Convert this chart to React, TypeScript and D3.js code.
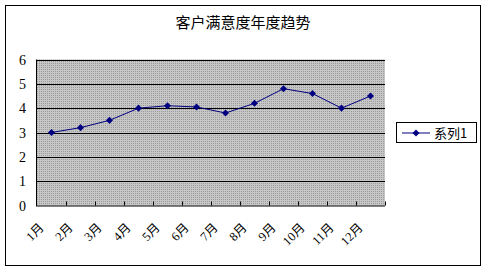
import React from "react";
import * as d3 from "d3";

const categories = ["1月", "2月", "3月", "4月", "5月", "6月", "7月", "8月", "9月", "10月", "11月", "12月"];
const seriesValues = [3.0, 3.2, 3.5, 4.0, 4.1, 4.05, 3.8, 4.2, 4.8, 4.6, 4.0, 4.5];
const yTicks = [0, 1, 2, 3, 4, 5, 6];
const seriesName = "系列1";
const title = "客户满意度年度趋势";

const W = 488;
const H = 273;
const plot = { left: 37, right: 385, top: 59.5, bottom: 205.5 };

export default function App() {
  const x = d3
    .scaleBand<string>()
    .domain(categories)
    .range([plot.left, plot.right])
    .padding(0);
  const y = d3.scaleLinear().domain([0, 6]).range([plot.bottom, plot.top]);
  const line = d3
    .line<number>()
    .x((_, i) => (x(categories[i]) as number) + x.bandwidth() / 2)
    .y((d) => y(d));
  const diamond = d3.symbol().type(d3.symbolDiamond2 || d3.symbolDiamond).size(32)() as string;

  return (
    <svg
      width={W}
      height={H}
      style={{ position: "absolute", left: 0, top: 0, display: "block" }}
    >
      <defs>
        <pattern id="dots" width="2" height="2" patternUnits="userSpaceOnUse">
          <rect width="2" height="2" fill="#c6c6c6" />
          <rect x="1" y="1" width="1" height="1" fill="#9c9c9c" />
        </pattern>
      </defs>
      <rect x={0} y={0} width={W} height={H} fill="#fff" />
      <rect x={5.5} y={5.5} width={475} height={260} fill="#fff" stroke="#000" strokeWidth={1} />
      <text
        x={243}
        y={28}
        textAnchor="middle"
        fontFamily="'Noto Sans CJK SC', sans-serif"
        fontSize={15}
        fill="#000"
      >
        {title}
      </text>
      <rect
        x={plot.left}
        y={plot.top}
        width={plot.right - plot.left}
        height={plot.bottom - plot.top}
        fill="url(#dots)"
      />
      {yTicks.map((t) => (
        <g key={t}>
          {t > 0 && (
            <line
              x1={plot.left}
              x2={plot.right}
              y1={Math.round(y(t)) + 0.5}
              y2={Math.round(y(t)) + 0.5}
              stroke="#000"
              strokeWidth={1}
            />
          )}
          <text
            x={26}
            y={y(t) + 5}
            textAnchor="end"
            fontFamily="'Liberation Serif', serif"
            fontSize={14}
            fill="#000"
          >
            {t}
          </text>
        </g>
      ))}
      <line x1={plot.left} x2={plot.right} y1={plot.bottom + 0.5} y2={plot.bottom + 0.5} stroke="#000" />
      <line x1={plot.left - 0.5} x2={plot.left - 0.5} y1={plot.top} y2={plot.bottom + 1} stroke="#000" />
      {categories.map((c) => {
        const tx = Math.round((x(c) as number) + x.bandwidth()) + 0.5;
        return (
          <line key={"t" + c} x1={tx} x2={tx} y1={plot.bottom} y2={plot.bottom - 4} stroke="#000" />
        );
      })}
      {categories.map((c) => {
        const cx = (x(c) as number) + x.bandwidth() / 2;
        return (
          <text
            key={"l" + c}
            transform={`translate(${cx - 7},${plot.bottom + 23}) rotate(-45)`}
            textAnchor="end"
            fontFamily="'Liberation Serif', 'Noto Sans CJK SC', serif"
            fontSize={12.5}
            fill="#000"
          >
            {c}
          </text>
        );
      })}
      <path d={line(seriesValues) || ""} fill="none" stroke="#000080" strokeWidth={1} />
      {seriesValues.map((v, i) => (
        <path
          key={"m" + i}
          d={diamond}
          transform={`translate(${(x(categories[i]) as number) + x.bandwidth() / 2},${y(v)})`}
          fill="#000080"
        />
      ))}
      <rect x={396.5} y={122.5} width={80} height={20} fill="#fff" stroke="#000" />
      <line x1={402} x2={430} y1={133} y2={133} stroke="#000080" />
      <path d={diamond} transform="translate(416,133)" fill="#000080" />
      <text
        x={434}
        y={138}
        fontFamily="'Noto Sans CJK SC', sans-serif"
        fontSize={13}
        fill="#000"
      >
        {seriesName}
      </text>
    </svg>
  );
}
